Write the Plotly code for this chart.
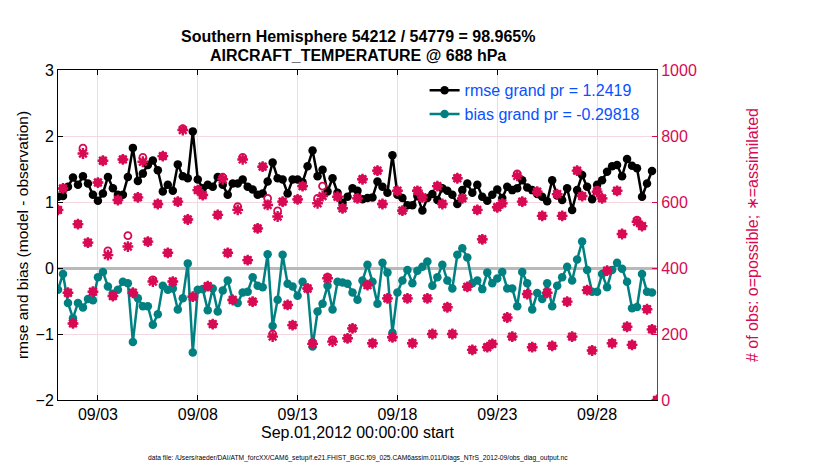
import pandas as pd
import plotly.graph_objects as go

# ---------------- data ----------------
times = pd.date_range("2012-09-01 00:00", periods=121, freq="6h")

rmse = [1.08,1.09,1.23,1.37,1.26,1.39,1.28,1.11,1.02,1.13,
        1.38,1.21,1.11,1.11,1.38,1.82,1.32,1.43,1.56,1.63,
        1.48,1.16,1.26,1.17,1.57,1.39,1.36,2.07,1.34,1.21,
        1.26,1.23,1.38,1.26,1.11,1.28,1.28,1.34,1.23,1.19,
        1.11,1.13,1.31,1.60,1.36,1.34,1.13,1.34,1.34,1.30,
        1.54,1.78,1.39,1.49,1.16,1.36,1.14,0.99,1.08,1.21,
        1.17,1.04,1.06,1.07,1.31,1.23,1.14,1.71,1.11,1.06,
        0.95,0.95,1.09,0.87,1.06,1.12,1.03,1.21,1.17,1.11,
        0.97,1.18,1.28,1.14,1.26,1.08,1.02,1.11,1.19,1.06,
        1.23,1.18,1.21,1.33,1.22,1.18,1.12,1.08,1.01,1.33,
        1.10,1.03,1.21,0.88,1.18,1.41,1.23,1.04,1.26,1.33,
        1.46,1.54,1.56,1.39,1.65,1.55,1.51,1.08,1.28,1.47]

bias = [-0.33,-0.09,-0.53,-0.76,-0.53,-0.60,-0.47,-0.49,-0.14,-0.06,
        -0.28,-0.39,-0.33,-0.21,-0.23,-1.12,-0.46,-0.58,-0.58,-0.86,
        -0.70,-0.27,-0.33,-0.31,-0.63,-0.46,0.07,-1.28,-0.33,-0.32,
        -0.64,-0.31,-0.66,-0.34,-0.19,-0.48,-0.53,-0.37,-0.36,-0.14,
        -0.27,-0.29,0.21,-0.88,-0.48,0.20,-0.24,-0.28,-0.42,-0.21,
        -0.31,-1.19,-0.66,-0.54,-0.27,-0.63,-0.21,-0.22,-0.24,-0.37,
        -0.48,-0.19,0.05,-0.21,-0.54,0.08,-0.07,-0.98,-0.37,-0.19,
        -0.03,-0.23,-0.04,0.02,0.10,-0.27,-0.14,0.05,-0.19,-0.31,
        0.20,0.30,0.16,-0.23,-0.19,-0.32,-0.07,-0.23,-0.16,-0.06,
        -0.31,-0.31,-0.58,-0.06,-0.23,-0.63,-0.38,-0.47,-0.23,-0.58,
        -0.27,-0.14,0.02,-0.19,0.13,0.40,-0.03,-0.36,-0.36,-0.09,
        -0.29,-0.03,0.08,-0.01,-0.21,-0.61,-0.59,-0.09,-0.36,-0.37]

nposs = [576,641,325,232,533,763,477,328,659,725,
         452,315,606,729,498,325,614,735,480,364,
         594,739,446,359,601,822,547,313,636,621,
         345,230,561,675,446,303,586,735,424,298,
         520,707,611,200,573,601,288,227,608,648,
         338,174,611,648,372,182,616,581,187,217,
         611,669,348,172,695,594,308,190,634,574,
         308,172,634,614,308,200,648,594,281,200,
         672,611,343,152,576,487,160,170,584,596,
         250,192,685,601,321,160,631,558,325,164,
         624,558,298,192,695,618,333,150,636,611,
         392,172,634,503,222,167,545,527,275,214,
         0]

nused = [576,641,325,232,533,747,477,328,659,725,
         439,315,606,729,465,325,614,722,480,359,
         594,739,446,359,601,818,547,313,636,621,
         345,230,561,669,446,303,576,729,424,298,
         520,707,591,192,556,601,288,227,608,648,
         338,170,596,618,369,177,616,581,187,217,
         611,669,348,172,695,594,308,190,634,574,
         308,172,634,614,308,200,648,594,281,200,
         672,611,343,152,576,487,160,170,584,596,
         250,192,679,601,321,160,631,558,325,164,
         624,558,298,192,695,618,333,150,631,611,
         392,172,634,503,222,167,540,527,275,214,
         0]

tick_dates = ["2012-09-03", "2012-09-08", "2012-09-13", "2012-09-18", "2012-09-23", "2012-09-28"]
tick_labels = ["09/03", "09/08", "09/13", "09/18", "09/23", "09/28"]

rmse_label = "rmse grand pr = 1.2419"
bias_label = "bias grand pr = -0.29818"
title_lines = ["Southern Hemisphere 54212 / 54779 = 98.965%", "AIRCRAFT_TEMPERATURE @ 688 hPa"]
datafile = "data file: /Users/raeder/DAI/ATM_forcXX/CAM6_setup/f.e21.FHIST_BGC.f09_025.CAM6assim.011/Diags_NTrS_2012-09/obs_diag_output.nc"

# ---------------- style ----------------
FONT = "Liberation Sans, Arial, Helvetica, sans-serif"
PINK = "rgb(215,10,83)"
TEAL = "rgb(0,128,128)"
BLUE = "rgb(10,80,255)"

# page body has an 8px margin: figure is sized to fit inside the 830x470 window
W, H = 814, 454
ML, MR, MT, MB = 50, 165, 62, 62
PH = H - MT - MB  # plot height in px


def py(fig_y):
    """paper y for a figure-pixel y (measured from the top of the figure)"""
    return (H - MB - fig_y) / PH


fig = go.Figure()

fig.add_trace(go.Scatter(
    x=times[:len(rmse)], y=rmse, mode="lines+markers", name=rmse_label,
    line=dict(color="black", width=2.5),
    marker=dict(symbol="circle", size=8.5, color="black"),
    yaxis="y"))
fig.add_trace(go.Scatter(
    x=times[:len(bias)], y=bias, mode="lines+markers", name=bias_label,
    line=dict(color=TEAL, width=2.5),
    marker=dict(symbol="circle", size=8.5, color=TEAL),
    yaxis="y"))

fig.add_trace(go.Scatter(
    x=times, y=nposs, mode="markers", showlegend=False,
    marker=dict(symbol="circle-open", size=7, color=PINK, line=dict(width=1.8, color=PINK)),
    yaxis="y2"))
fig.add_trace(go.Scatter(
    x=times, y=nused, mode="markers", showlegend=False,
    marker=dict(symbol="asterisk-open", size=9, color=PINK, line=dict(width=2.4, color=PINK)),
    yaxis="y2"))

fig.update_layout(
    width=W, height=H,
    paper_bgcolor="white", plot_bgcolor="white",
    margin=dict(l=ML, r=MR, t=MT, b=MB),
    font=dict(family=FONT, size=15, color="black"),
    showlegend=True,
    legend=dict(x=0.612, y=0.99, xanchor="left", yanchor="top",
                bgcolor="rgba(0,0,0,0)", borderwidth=0,
                font=dict(family=FONT, size=16, color=BLUE),
                tracegroupgap=0),
    xaxis=dict(type="date", range=["2012-09-01 00:00", "2012-10-01 00:00"],
               tickvals=tick_dates, ticktext=tick_labels,
               ticks="inside", ticklen=5, tickcolor="black", mirror="ticks",
               showline=True, linecolor="black", linewidth=1,
               showgrid=True, gridcolor="rgb(225,225,225)", gridwidth=1,
               zeroline=False,
               title=dict(text="Sep.01,2012 00:00:00 start", standoff=4,
                          font=dict(size=16)),
               tickfont=dict(size=16)),
    yaxis=dict(range=[-2, 3], tickvals=[-2, -1, 0, 1, 2, 3],
               ticks="inside", ticklen=5, tickcolor="black",
               showline=True, linecolor="black", linewidth=1,
               showgrid=False, zeroline=True, zerolinecolor="rgb(185,185,185)",
               zerolinewidth=2.5,
               title=dict(text="rmse and bias (model - observation)", standoff=3,
                          font=dict(size=15.5)),
               tickfont=dict(size=16)),
    yaxis2=dict(range=[0, 1000], tickvals=[0, 200, 400, 600, 800, 1000],
                overlaying="y", side="right",
                ticks="inside", ticklen=5, tickcolor=PINK,
                showline=True, linecolor=PINK, linewidth=1,
                showgrid=True, gridcolor="rgb(243,215,225)", gridwidth=1,
                zeroline=False, color=PINK,
                title=dict(text="# of obs: o=possible; \u2217=assimilated", standoff=50,
                           font=dict(size=16, color=PINK)),
                tickfont=dict(size=16, color=PINK)),
    annotations=[
        dict(text="<b>" + title_lines[0] + "</b>", x=0.5, xref="paper", xanchor="center",
             y=py(29), yref="paper", yanchor="middle", showarrow=False,
             font=dict(family=FONT, size=16, color="black")),
        dict(text="<b>" + title_lines[1] + "</b>", x=0.5, xref="paper", xanchor="center",
             y=py(47), yref="paper", yanchor="middle", showarrow=False,
             font=dict(family=FONT, size=16, color="black")),
        dict(text=datafile, x=0.5, xref="paper", xanchor="center",
             y=py(450), yref="paper", yanchor="middle", showarrow=False,
             font=dict(family=FONT, size=6.7, color="black")),
    ],
)

fig.write_html("out.html")
